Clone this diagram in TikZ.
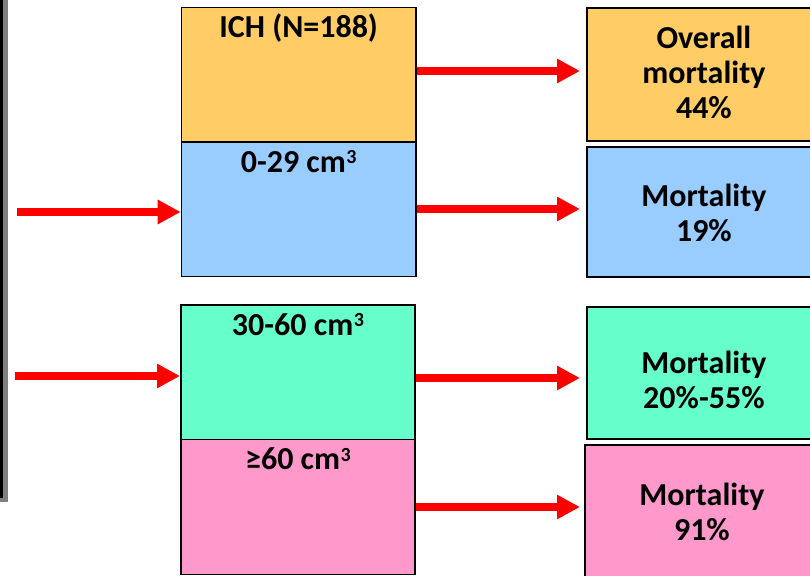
\documentclass[tikz,border=0pt]{standalone}
\usepackage{fontspec}
\setmainfont{Carlito}
\usetikzlibrary{arrows.meta}
\definecolor{ichc}{HTML}{FFCC66}
\definecolor{bluec}{HTML}{99CCFF}
\definecolor{greenc}{HTML}{66FFCC}
\definecolor{pinkc}{HTML}{FF99CC}
\definecolor{barg}{HTML}{808080}
\newcommand{\cubed}{\kern0.5pt\raisebox{8.5pt}{\fontsize{20}{20}\selectfont\bfseries 3}}
\tikzset{
  txt/.style={font=\fontsize{32}{35}\selectfont\bfseries, align=center},
  lbox/.style={draw=black, line width=1.6pt, anchor=north west, inner sep=0pt,
    minimum width=234.3pt},
  rbox/.style={draw=black, line width=1.8pt, anchor=north west, inner sep=0pt,
    minimum width=234pt},
  lab/.style={anchor=north, yshift=-11pt, inner sep=0pt, text height=20pt, text depth=6pt, txt},
  rlab/.style={anchor=center, inner sep=0pt, txt},
  arr/.style={draw=red, line width=8pt, -{Triangle[length=23pt,width=23pt]}}
}
\begin{document}
\begin{tikzpicture}[x=1pt,y=1pt]
\useasboundingbox (0,0) rectangle (810,-575);
\clip (0,0) rectangle (810,-575);
% left bar
\fill[barg] (0,0) rectangle (8,-502);
\fill[black] (0,0) rectangle (3,-498);
% left boxes
\node[lbox, fill=ichc, minimum height=134.3pt, label={[lab]north:ICH (N=188)}] (ich) at (180.7,-6.7) {};
\node[lbox, fill=bluec, minimum height=134.7pt, label={[lab]north:0-29 cm\cubed}] (small) at (180.7,-141) {};
\node[lbox, fill=greenc, minimum height=134.7pt, label={[lab]north:30-60 cm\cubed}] (mid) at (180,-304) {};
\node[lbox, fill=pinkc, minimum height=135pt, label={[lab]north:≥60 cm\cubed}] (large) at (180,-438.7) {};
% right boxes
\node[rbox, fill=ichc, minimum height=132.7pt, label={[rlab, yshift=2pt]center:Overall\\mortality\\44\%}] (overall) at (586,-7.3) {};
\node[rbox, fill=bluec, minimum height=130.3pt, label={[rlab, yshift=-1.5pt]center:Mortality\\19\%}] (msmall) at (586,-145.7) {};
\node[rbox, fill=greenc, minimum height=132pt, label={[rlab, yshift=-7pt]center:Mortality\\20\%-55\%}] (mmid) at (586,-305.7) {};
\node[rbox, fill=pinkc, minimum height=134pt, label={[rlab, yshift=0pt]center:Mortality\\91\%}] (mlarge) at (584,-444) {};
% input arrows
\coordinate (in1) at (17,-212);
\coordinate (in2) at (15,-376);
\draw[arr] (in1) -- (in1 -| small.west);
\draw[arr] (in2) -- (in2 -| mid.west);
% output arrows
\draw[arr, shorten >=6pt] (ich.east |- 0,-71) -- (overall.west |- 0,-71);
\draw[arr, shorten >=6pt] (small.east |- 0,-209) -- (msmall.west |- 0,-209);
\draw[arr, shorten >=6pt] (mid.east |- 0,-378) -- (mmid.west |- 0,-378);
\draw[arr, shorten >=4pt] (large.east |- 0,-507) -- (mlarge.west |- 0,-507);
\end{tikzpicture}
\end{document}
